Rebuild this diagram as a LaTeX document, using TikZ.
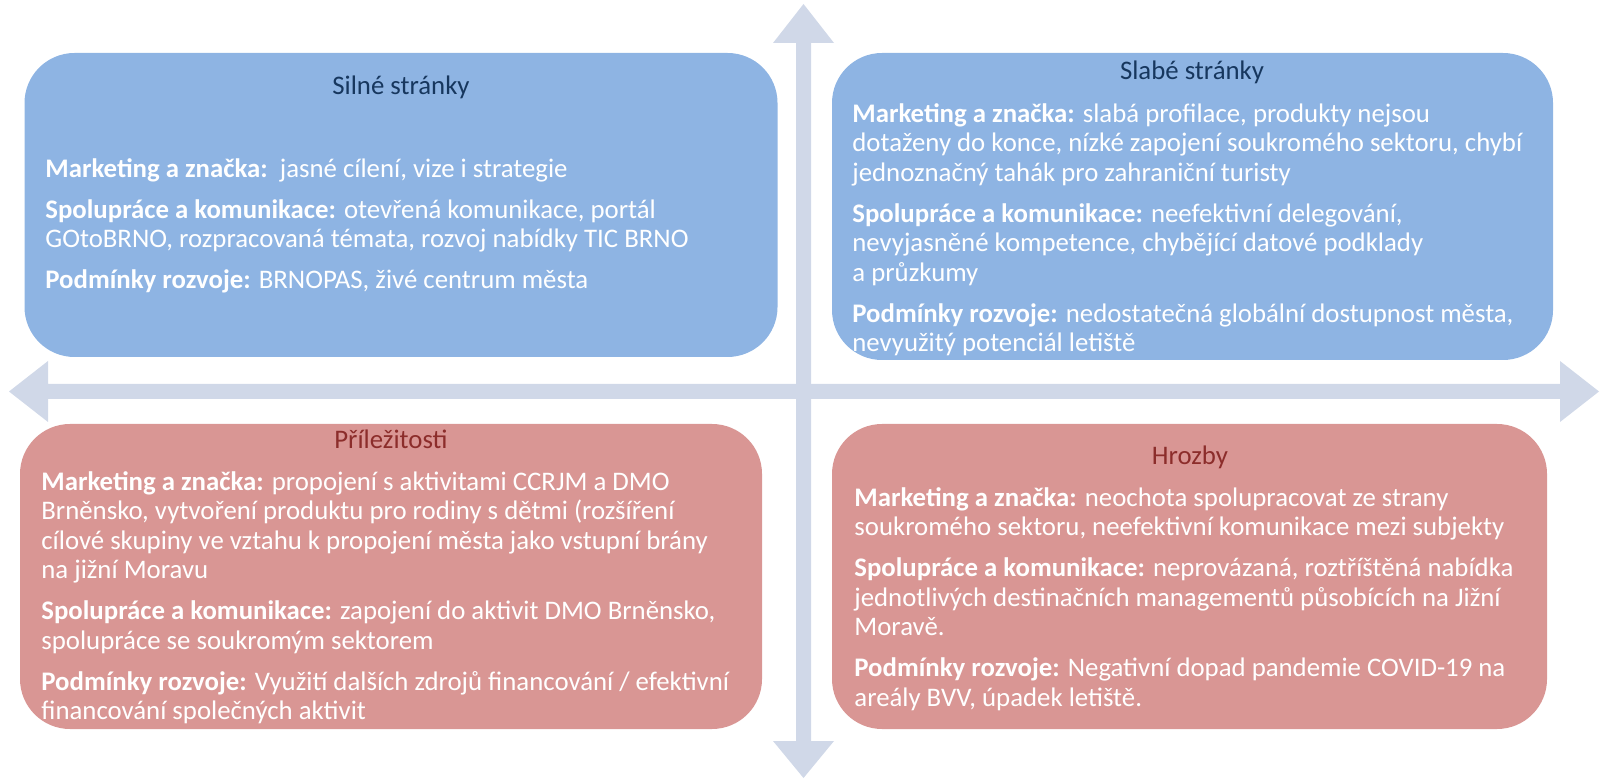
\documentclass[tikz,border=0pt]{standalone}
\usepackage{fontspec}
\setmainfont{Carlito}
\definecolor{boxblue}{HTML}{8EB4E3}
\definecolor{boxred}{HTML}{D99694}
\definecolor{titleblue}{HTML}{17375E}
\definecolor{titlered}{HTML}{8C2D2B}
\definecolor{axisgray}{HTML}{D0D8E8}
\tikzset{bluebox/.style={fill=boxblue,rounded corners=25pt,inner sep=0pt}}
\tikzset{redbox/.style={fill=boxred,rounded corners=25pt,inner sep=0pt}}
\tikzset{btitle/.style={text=titleblue,font=\fontsize{13.4}{14.75}\selectfont,anchor=base,inner sep=0pt}}
\tikzset{rtitle/.style={text=titlered,font=\fontsize{13.4}{14.75}\selectfont,anchor=base,inner sep=0pt}}
\tikzset{bodytext/.style={text=white,font=\fontsize{13.4}{14.75}\selectfont,align=left,anchor=north west,inner sep=0pt}}
\tikzset{axisarrow/.style={fill=axisgray}}

\begin{document}
\begin{tikzpicture}[x=0.5pt,y=-0.5pt]
    \useasboundingbox (0,0) rectangle (1604,779);

    % axes
    \fill[axisarrow] (803.5,4) -- (834,43) -- (811,43) -- (811,741) -- (834,741)
        -- (803.5,778) -- (773,741) -- (796,741) -- (796,43) -- (773,43) -- cycle;
    \fill[axisarrow] (9,391.5) -- (48,361) -- (48,384) -- (1560,384) -- (1560,361)
        -- (1599,391.5) -- (1560,422) -- (1560,399) -- (48,399) -- (48,422) -- cycle;

    % quadrants
    \node[bluebox,minimum width=376.5pt,minimum height=152pt] (silne) at (401,205) {};
    \node[bluebox,minimum width=360.5pt,minimum height=153.5pt] (slabe) at (1192.5,206.5) {};
    \node[redbox,minimum width=371pt,minimum height=152.5pt] (prilez) at (391,576.5) {};
    \node[redbox,minimum width=357.5pt,minimum height=152.5pt] (hrozby) at (1189.5,576.5) {};

    \node[btitle] (silnet) at (401,95) {Silné stránky};
    \node[btitle] (slabet) at (1192,80) {Slabé stránky};
    \node[rtitle] (prilezt) at (391,449) {Příležitosti};
    \node[rtitle] (hrozbyt) at (1190,465) {Hrozby};

    % first baseline sits 20.65 below the top (strut)
    \node[bodytext] (silneb) at (45,156.35) {%
      \strut\textbf{Marketing a značka:}\ \ jasné cílení, vize i strategie\\[5.75pt]
      \textbf{Spolupráce a komunikace:} otevřená komunikace, portál\\
      GOtoBRNO, rozpracovaná témata, rozvoj nabídky TIC BRNO\\[5.75pt]
      \textbf{Podmínky rozvoje:} BRNOPAS, živé centrum města};

    \node[bodytext] (slabeb) at (852,101.35) {%
      \strut\textbf{Marketing a značka:} slabá profilace, produkty nejsou\\
      dotaženy do konce, nízké zapojení soukromého sektoru, chybí\\
      jednoznačný tahák pro zahraniční turisty\\[5.75pt]
      \textbf{Spolupráce a komunikace:} neefektivní delegování,\\
      nevyjasněné kompetence, chybějící datové podklady\\
      a průzkumy\\[5.75pt]
      \textbf{Podmínky rozvoje:} nedostatečná globální dostupnost města,\\
      nevyužitý potenciál letiště};

    \node[bodytext] (prilezb) at (41,469.35) {%
      \strut\textbf{Marketing a značka:} propojení s aktivitami CCRJM a DMO\\
      Brněnsko, vytvoření produktu pro rodiny s dětmi (rozšíření\\
      cílové skupiny ve vztahu k propojení města jako vstupní brány\\
      na jižní Moravu\\[5.75pt]
      \textbf{Spolupráce a komunikace:} zapojení do aktivit DMO Brněnsko,\\
      spolupráce se soukromým sektorem\\[5.75pt]
      \textbf{Podmínky rozvoje:} Využití dalších zdrojů financování / efektivní\\
      financování společných aktivit};

    \node[bodytext] (hrozbyb) at (854,485.35) {%
      \strut\textbf{Marketing a značka:} neochota spolupracovat ze strany\\
      soukromého sektoru, neefektivní komunikace mezi subjekty\\[5.75pt]
      \textbf{Spolupráce a komunikace:} neprovázaná, roztříštěná nabídka\\
      jednotlivých destinačních managementů působících na Jižní\\
      Moravě.\\[5.75pt]
      \textbf{Podmínky rozvoje:} Negativní dopad pandemie COVID-19 na\\
      areály BVV, úpadek letiště.};
\end{tikzpicture}
\end{document}
